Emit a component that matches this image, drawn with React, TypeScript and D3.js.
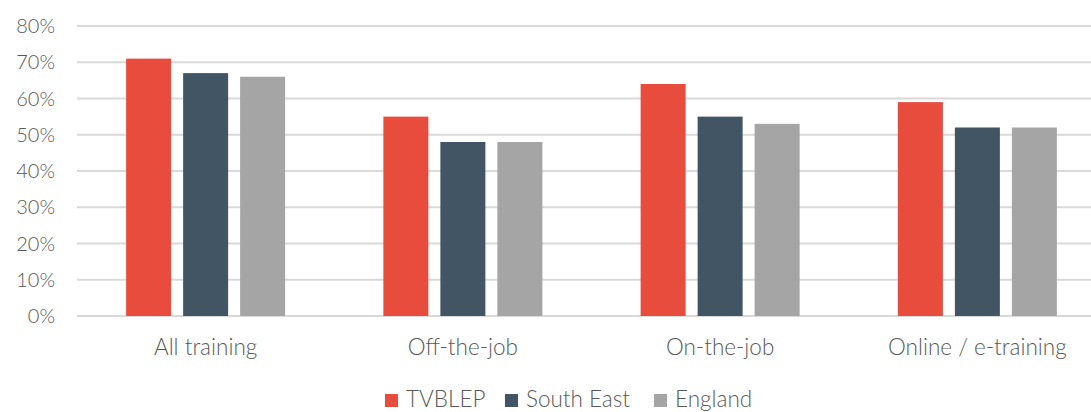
import React from "react";
import * as d3 from "d3";

const categories = ["All training", "Off-the-job", "On-the-job", "Online / e-training"];
const seriesNames = ["TVBLEP", "South East", "England"];
const tvblep = [71, 55, 64, 59];
const southEast = [67, 48, 55, 52];
const england = [66, 48, 53, 52];
const yTicks = [0, 10, 20, 30, 40, 50, 60, 70, 80];
const colors = ["#E84C3D", "#415565", "#A5A5A5"];

const W = 1091;
const H = 412;
const FONT = "Lato, 'Open Sans', sans-serif";

export default function App() {
  const series = [tvblep, southEast, england];
  const x0 = d3.scaleBand<string>().domain(categories).range([77, 1106]).paddingInner(0).paddingOuter(0);
  const groupW = 159;
  const x1 = d3
    .scaleBand<string>()
    .domain(seriesNames)
    .range([0, groupW])
    .paddingInner(12 / 57);
  const y = d3.scaleLinear().domain([0, 80]).range([316, 26]);

  const legendItems = [
    { name: seriesNames[0], x: 385 },
    { name: seriesNames[1], x: 505 },
    { name: seriesNames[2], x: 654 },
  ];

  return (
    <svg
      width={W}
      height={H}
      style={{ position: "absolute", left: 0, top: 0, background: "#fff" }}
      fontFamily={FONT}
    >
      {yTicks.map((t) => (
        <g key={t}>
          <line x1={77} x2={W} y1={y(t)} y2={y(t)} stroke="#D9D9D9" strokeWidth={2} />
          <text
            x={55}
            y={y(t)}
            dy="0.35em"
            textAnchor="end"
            fontSize={20}
            fontWeight={300}
            fill="#595959"
          >
            {t}%
          </text>
        </g>
      ))}
      {categories.map((c, ci) => {
        const gx = (x0(c) as number) + (x0.bandwidth() - groupW) / 2;
        return (
          <g key={c}>
            {series.map((s, si) => (
              <rect
                key={si}
                x={gx + (x1(seriesNames[si]) as number)}
                y={y(s[ci])}
                width={x1.bandwidth()}
                height={y(0) - y(s[ci])}
                fill={colors[si]}
              />
            ))}
            <text
              x={(x0(c) as number) + x0.bandwidth() / 2}
              y={355}
              textAnchor="middle"
              fontSize={22.5}
              fontWeight={300}
              fill="#595959"
            >
              {c}
            </text>
          </g>
        );
      })}
      {legendItems.map((l, i) => (
        <g key={l.name}>
          <rect x={l.x} y={394} width={13} height={13} fill={colors[i]} />
          <text x={l.x + 21} y={407} fontSize={22.5} fontWeight={300} fill="#595959">
            {l.name}
          </text>
        </g>
      ))}
    </svg>
  );
}
